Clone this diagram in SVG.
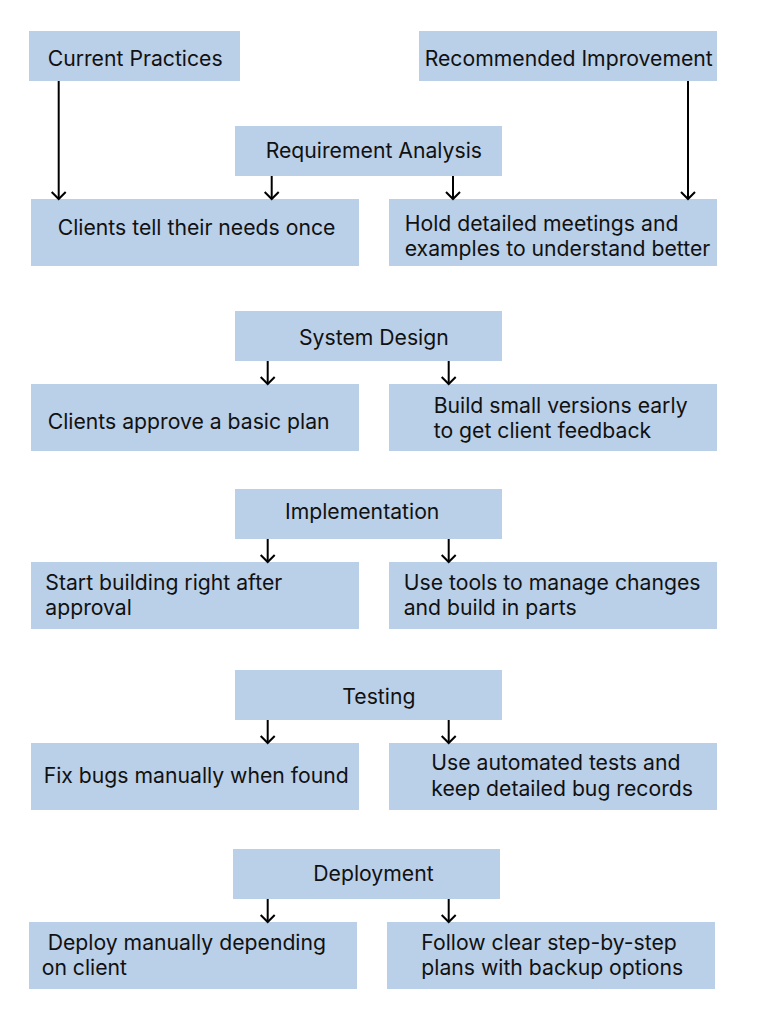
<svg xmlns="http://www.w3.org/2000/svg" width="758" height="1020" viewBox="0 0 758 1020">
<defs>
<style>
.box{fill:#BACFE8}
.t{font-family:Inter,"Noto Sans","Liberation Sans",sans-serif;font-size:21.2px;fill:#111111}
.c{stroke:#000;stroke-width:2;fill:none}
</style>
<marker id="ah" markerUnits="userSpaceOnUse" refX="0" refY="0" markerWidth="20" markerHeight="20" orient="auto" overflow="visible">
<path d="M-7,-7 L0,0 L-7,7" fill="none" stroke="#000" stroke-width="2"/>
</marker>
</defs>
<rect width="758" height="1020" fill="#ffffff"/>
<g id="current-practices"><rect class="box" x="29" y="31" width="211" height="50"/><text class="t" x="47.7" y="65.5">Current Practices</text></g>
<g id="recommended-improvement"><rect class="box" x="419" y="31" width="298" height="50"/><text class="t" x="424.7" y="65.5">Recommended Improvement</text></g>
<g id="requirement-analysis"><rect class="box" x="235" y="126" width="267" height="50"/><text class="t" x="265.7" y="158.3">Requirement Analysis</text></g>
<g id="clients-tell"><rect class="box" x="31" y="199" width="328" height="67"/><text class="t" x="57.7" y="235">Clients tell their needs once</text></g>
<g id="hold-meetings"><rect class="box" x="389" y="199" width="328" height="67"/><text class="t" x="404.7" y="230.7">Hold detailed meetings and</text><text class="t" x="404.7" y="256">examples to understand better</text></g>
<g id="system-design"><rect class="box" x="235" y="311" width="267" height="50"/><text class="t" x="299" y="345">System Design</text></g>
<g id="clients-approve"><rect class="box" x="31" y="384" width="328" height="67"/><text class="t" x="47.7" y="429.3">Clients approve a basic plan</text></g>
<g id="build-small"><rect class="box" x="389" y="384" width="328" height="67"/><text class="t" x="433.7" y="413.3">Build small versions early</text><text class="t" x="433.7" y="438.3">to get client feedback</text></g>
<g id="implementation"><rect class="box" x="235" y="489" width="267" height="50"/><text class="t" x="285" y="519.3">Implementation</text></g>
<g id="start-building"><rect class="box" x="31" y="562" width="328" height="67"/><text class="t" x="45.3" y="590">Start building right after</text><text class="t" x="45.3" y="615">approval</text></g>
<g id="use-tools"><rect class="box" x="389" y="562" width="328" height="67"/><text class="t" x="403.7" y="590">Use tools to manage changes</text><text class="t" x="403.7" y="615">and build in parts</text></g>
<g id="testing"><rect class="box" x="235" y="670" width="267" height="50"/><text class="t" x="342.3" y="704.3">Testing</text></g>
<g id="fix-bugs"><rect class="box" x="31" y="743" width="328" height="67"/><text class="t" x="43.7" y="783.3">Fix bugs manually when found</text></g>
<g id="automated-tests"><rect class="box" x="389" y="743" width="328" height="67"/><text class="t" x="431.3" y="770">Use automated tests and</text><text class="t" x="431.3" y="796">keep detailed bug records</text></g>
<g id="deployment"><rect class="box" x="233" y="849" width="267" height="50"/><text class="t" x="313.3" y="881">Deployment</text></g>
<g id="deploy-manually"><rect class="box" x="29" y="922" width="328" height="67"/><text class="t" x="47.7" y="950">Deploy manually depending</text><text class="t" x="41.7" y="975">on client</text></g>
<g id="follow-plans"><rect class="box" x="387" y="922" width="328" height="67"/><text class="t" x="421.3" y="950">Follow clear step-by-step</text><text class="t" x="421.3" y="975">plans with backup options</text></g>
<g id="connectors">
<line class="c" x1="58.7" y1="81" x2="58.7" y2="199" marker-end="url(#ah)"/>
<line class="c" x1="688" y1="81" x2="688" y2="199" marker-end="url(#ah)"/>
<line class="c" x1="271.7" y1="176" x2="271.7" y2="199" marker-end="url(#ah)"/>
<line class="c" x1="453" y1="176" x2="453" y2="199" marker-end="url(#ah)"/>
<line class="c" x1="267.7" y1="361" x2="267.7" y2="384" marker-end="url(#ah)"/>
<line class="c" x1="448.7" y1="361" x2="448.7" y2="384" marker-end="url(#ah)"/>
<line class="c" x1="267.7" y1="539" x2="267.7" y2="562" marker-end="url(#ah)"/>
<line class="c" x1="448.7" y1="539" x2="448.7" y2="562" marker-end="url(#ah)"/>
<line class="c" x1="267.7" y1="720" x2="267.7" y2="743" marker-end="url(#ah)"/>
<line class="c" x1="448.7" y1="720" x2="448.7" y2="743" marker-end="url(#ah)"/>
<line class="c" x1="267.7" y1="899" x2="267.7" y2="922" marker-end="url(#ah)"/>
<line class="c" x1="448.7" y1="899" x2="448.7" y2="922" marker-end="url(#ah)"/>
</g>
</svg>
